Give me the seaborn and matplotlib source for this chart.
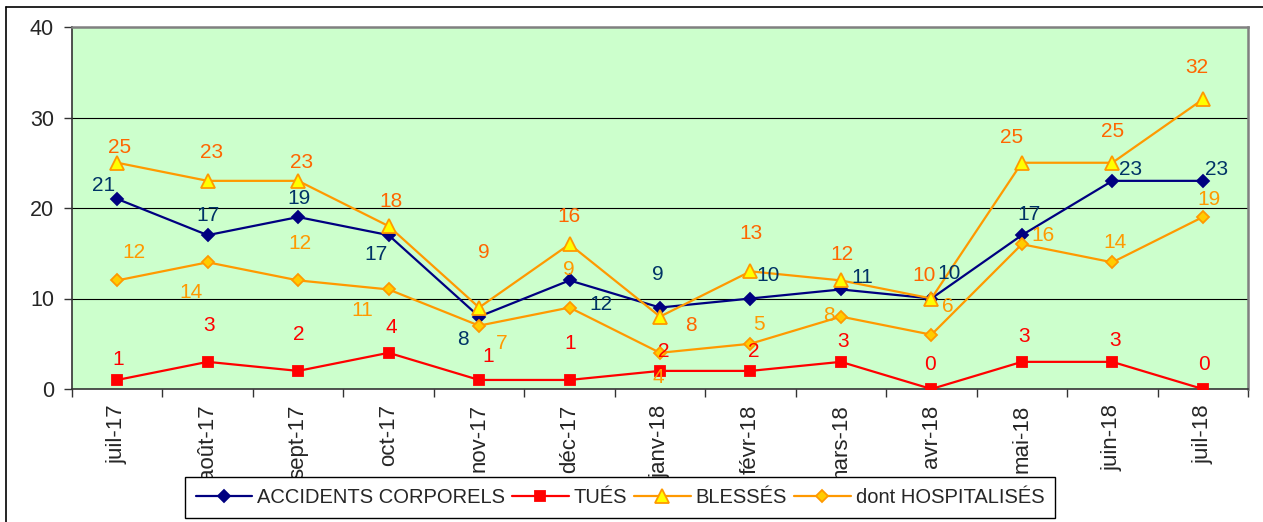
import seaborn as sns
import numpy as np
import pandas as pd
import matplotlib.pyplot as plt
from matplotlib.lines import Line2D

mois = ['juil-17', 'août-17', 'sept-17', 'oct-17', 'nov-17', 'déc-17', 'janv-18',
        'févr-18', 'mars-18', 'avr-18', 'mai-18', 'juin-18', 'juil-18']
accidents = [21, 17, 19, 17, 8, 12, 9, 10, 11, 10, 17, 23, 23]
tues = [1, 3, 2, 4, 1, 1, 2, 2, 3, 0, 3, 3, 0]
blesses = [25, 23, 23, 18, 9, 16, 8, 13, 12, 10, 25, 25, 32]
hospitalises = [12, 14, 12, 11, 7, 9, 4, 5, 8, 6, 16, 14, 19]

# decalage des etiquettes (pixels, y vers le bas comme sur l'image)
off_acc = [(-14, -13), (0, -20), (1, -19), (-13, 19), (-16, 23), (31, 24), (-2, -33),
           (18, -23), (21, -12), (18, -25), (7, -21), (18, -11), (14, -11)]
off_tues = [(1, -20), (1, -36), (1, -36), (3, -25), (9, -23), (1, -36), (4, -19),
            (3, -19), (2, -20), (-1, -25), (2, -25), (3, -21), (1, -25)]
off_bles = [(2, -15), (4, -28), (3, -18), (2, -25), (5, -55), (-1, -28), (31, 9),
            (1, -38), (1, -26), (-7, -23), (-10, -25), (0, -31), (-6, -32)]
off_hosp = [(17, -28), (-17, 30), (2, -37), (-26, 21), (23, 18), (-1, -38), (-2, 25),
            (9, -19), (-12, -1), (16, -28), (21, -9), (3, -20), (6, -18)]

sns.set_style('ticks')
plt.rcParams['font.family'] = ['Liberation Sans', 'DejaVu Sans']

df = pd.DataFrame({'mois': mois, 'ACCIDENTS CORPORELS': accidents, 'TUÉS': tues,
                   'BLESSÉS': blesses, 'dont HOSPITALISÉS': hospitalises})

fig = plt.figure(figsize=(12.63, 5.22), dpi=100)
W, H = 1263, 522
ax = fig.add_axes([72 / W, 1 - 389 / H, (1248 - 72) / W, (389 - 27) / H])
ax.set_facecolor('#CCFFCC')

series = [
    ('ACCIDENTS CORPORELS', '#000080', 'D', '#000080', '#000080', 6.5, '#003366', off_acc),
    ('TUÉS', '#FF0000', 's', '#FF0000', '#FF0000', 7.5, '#FF0000', off_tues),
    ('BLESSÉS', '#FF9900', '^', '#FFFF00', '#FF9900', 9.5, '#FF6600', off_bles),
    ('dont HOSPITALISÉS', '#FF9900', 'D', '#FFCC00', '#FF9900', 6.5, '#FF9900', off_hosp),
]

for name, col, mk, mfc, mec, ms, tcol, offs in series:
    sns.lineplot(data=df, x='mois', y=name, ax=ax, sort=False, color=col, lw=1.6,
                 marker=mk, markersize=ms, markerfacecolor=mfc, markeredgecolor=mec,
                 markeredgewidth=1.3, zorder=3)
    for i, v in enumerate(df[name]):
        dx, dy = offs[i]
        ax.annotate(str(v), xy=(i, v), xytext=(dx, -dy), textcoords='offset pixels',
                    ha='center', va='center', fontsize=15, color=tcol, zorder=4)

ax.set_xlim(-0.5, len(mois) - 0.5)
ax.set_ylim(0, 40)
ax.set_yticks([0, 10, 20, 30, 40])
ax.set_xlabel('')
ax.set_ylabel('')
for y in [10, 20, 30]:
    ax.axhline(y, color='black', lw=0.8, zorder=1)

ax.set_xticks(range(len(mois)))
ax.set_xticklabels(mois, rotation=90, fontsize=16)
ax.set_xticks(np.arange(-0.5, len(mois)), minor=True)
ax.tick_params(axis='x', which='major', length=0, pad=11)
ax.tick_params(axis='x', which='minor', length=6, width=1, color='#333333')
ax.tick_params(axis='y', labelsize=15.5, length=6, width=1, color='#333333', pad=7)

for s in ['left', 'bottom']:
    ax.spines[s].set_color('#333333')
    ax.spines[s].set_linewidth(1.2)
for s in ['top', 'right']:
    ax.spines[s].set_color('#808080')
    ax.spines[s].set_linewidth(1.8)

if ax.get_legend() is not None:
    ax.get_legend().remove()
handles = [Line2D([], [], color=c, lw=1.6, marker=m, markersize=ms, markerfacecolor=f,
                  markeredgecolor=e, markeredgewidth=1.3, label=n)
           for n, c, m, f, e, ms, t, o in series]
leg = fig.legend(handles=handles, loc='center', bbox_to_anchor=(620 / W, 1 - 497.5 / H),
                 ncol=4, fontsize=14.5, frameon=True, fancybox=False, framealpha=1,
                 edgecolor='black', handlelength=2.8, handletextpad=0.25,
                 columnspacing=0.35, borderpad=0.55)
leg.get_frame().set_linewidth(1.0)

# cadre exterieur (haut et gauche visibles)
fig.add_artist(Line2D([6 / W, 1], [1 - 6.5 / H, 1 - 6.5 / H], color='black', lw=1.2,
                      transform=fig.transFigure))
fig.add_artist(Line2D([6 / W, 6 / W], [0, 1 - 6.5 / H], color='black', lw=1.2,
                      transform=fig.transFigure))

fig.savefig('out.png', dpi=100)
